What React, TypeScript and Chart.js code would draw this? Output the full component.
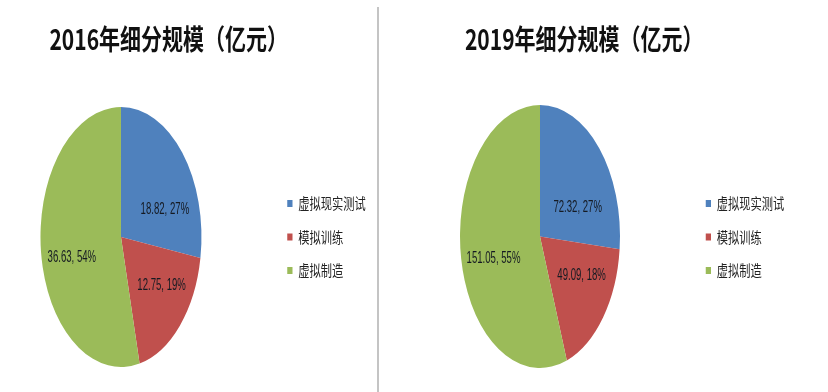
import React, { useEffect, useRef } from "react";
import { Chart, registerables } from "chart.js";

Chart.register(...registerables);

// ---- data ----
const categories = ["虚拟现实测试", "模拟训练", "虚拟制造"];
const values2016 = [18.82, 12.75, 36.63];
const percents2016 = [27, 19, 54];
const values2019 = [72.32, 49.09, 151.05];
const percents2019 = [27, 18, 55];
const title2016 = "2016年细分规模（亿元）";
const title2019 = "2019年细分规模（亿元）";

// ---- style ----
const colors = ["#4f81bd", "#c0504d", "#9bbb59"];
const K = 0.75; // horizontal condensation of the whole picture
const CJK = "'Noto Sans CJK SC', 'Noto Sans', sans-serif";

type Geo = {
  cx: number; cy: number; r: number; sx: number;
  titleX: number; titleY: number;
  legendX: number; legendY: number;
  labelFrac: number[]; labelR: number[];
};

const geoLeft: Geo = {
  cx: 161.3, cy: 237, r: 130, sx: 0.8256,
  titleX: 225, titleY: 39,
  legendX: 383, legendY: 196,
  labelFrac: [0.69, 0.4, 0.46], labelR: [0.586, 0.626, 0.63],
};
const geoRight: Geo = {
  cx: 216, cy: 236.5, r: 131.5, sx: 0.811,
  titleX: 275, titleY: 39,
  legendX: 437, legendY: 196,
  labelFrac: [0.68, 0.37, 0.47], labelR: [0.52, 0.598, 0.604],
};

function PieChart(props: {
  width: number; height: number; title: string; values: number[]; percents: number[]; geo: Geo;
}) {
  const ref = useRef<HTMLCanvasElement | null>(null);
  useEffect(() => {
    const canvas = ref.current;
    if (!canvas) return;
    const g = props.geo;
    const layoutPlugin = {
      id: "layoutFix",
      afterLayout(chart: any) {
        chart.chartArea = {
          left: g.cx - g.r, right: g.cx + g.r, top: g.cy - g.r, bottom: g.cy + g.r,
          width: 2 * g.r, height: 2 * g.r,
        };
        const t = chart.titleBlock;
        if (t) {
          const h = t.height, w = t.width;
          t.top = g.titleY - h / 2; t.bottom = t.top + h;
          t.left = g.titleX - w / 2; t.right = t.left + w;
        }
        const lg = chart.legend;
        if (lg) {
          const pad = lg.options.labels.padding;
          const w = lg.width, h = lg.height;
          lg.left = g.legendX - pad; lg.right = lg.left + w;
          lg.top = g.legendY - pad; lg.bottom = lg.top + h;
        }
      },
      beforeDraw(chart: any) {
        chart.ctx.save();
        chart.ctx.scale(K, 1);
      },
      afterDraw(chart: any) {
        chart.ctx.restore();
      },
      beforeDatasetsDraw(chart: any) {
        const ctx = chart.ctx;
        ctx.save();
        ctx.translate(g.cx, g.cy);
        ctx.scale(g.sx, 1);
        ctx.translate(-g.cx, -g.cy);
      },
      afterDatasetsDraw(chart: any) {
        const ctx = chart.ctx;
        ctx.restore();
        const meta = chart.getDatasetMeta(0);
        meta.data.forEach((arc: any, i: number) => {
          const p = arc.getProps(["x", "y", "startAngle", "endAngle", "outerRadius"], true);
          const a = p.startAngle + g.labelFrac[i] * (p.endAngle - p.startAngle);
          const rr = g.labelR[i] * p.outerRadius;
          const px = p.x + Math.cos(a) * rr * g.sx;
          const py = p.y + Math.sin(a) * rr;
          ctx.save();
          ctx.translate(px, py);
          ctx.scale(0.8, 1);
          ctx.font = "16px 'Liberation Sans', 'Noto Sans', sans-serif";
          ctx.fillStyle = "#151a22";
          ctx.textAlign = "center";
          ctx.textBaseline = "middle";
          ctx.fillText(`${props.values[i].toFixed(2)}, ${props.percents[i]}%`, 0, 0);
          ctx.restore();
        });
      },
    };
    const chart = new Chart(canvas, {
      type: "pie",
      data: {
        labels: categories,
        datasets: [{
          data: props.values,
          backgroundColor: colors,
          borderWidth: 0,
          hoverOffset: 0,
        }],
      },
      options: {
        responsive: false,
        animation: false,
        events: [],
        radius: g.r,
        layout: { padding: 0 },
        plugins: {
          tooltip: { enabled: false },
          title: {
            display: true,
            text: props.title,
            color: "#111",
            padding: 0,
            font: { family: CJK, size: 28, weight: "bold" },
          },
          legend: {
            display: true,
            position: "right",
            align: "start",
            labels: {
              boxWidth: 7,
              boxHeight: 7,
              padding: 18.5,
              color: "#222",
              font: { family: CJK, size: 15 },
            },
          },
        },
      } as any,
      plugins: [layoutPlugin],
    });
    return () => chart.destroy();
  }, []);
  return <canvas ref={ref} width={props.width} height={props.height} style={{ display: "block" }} />;
}

export default function App() {
  return (
    <div style={{ position: "absolute", left: 0, top: 0, width: 828, height: 392, background: "#ffffff", overflow: "hidden" }}>
      <div style={{ position: "absolute", left: 0, top: 0 }}>
        <PieChart width={378} height={392} title={title2016} values={values2016} percents={percents2016} geo={geoLeft} />
      </div>
      <div style={{ position: "absolute", left: 378, top: 0 }}>
        <PieChart width={450} height={392} title={title2019} values={values2019} percents={percents2019} geo={geoRight} />
      </div>
      <div style={{ position: "absolute", left: 377, top: 7, width: 2, height: 385, background: "#c4c4c4" }} />
    </div>
  );
}
